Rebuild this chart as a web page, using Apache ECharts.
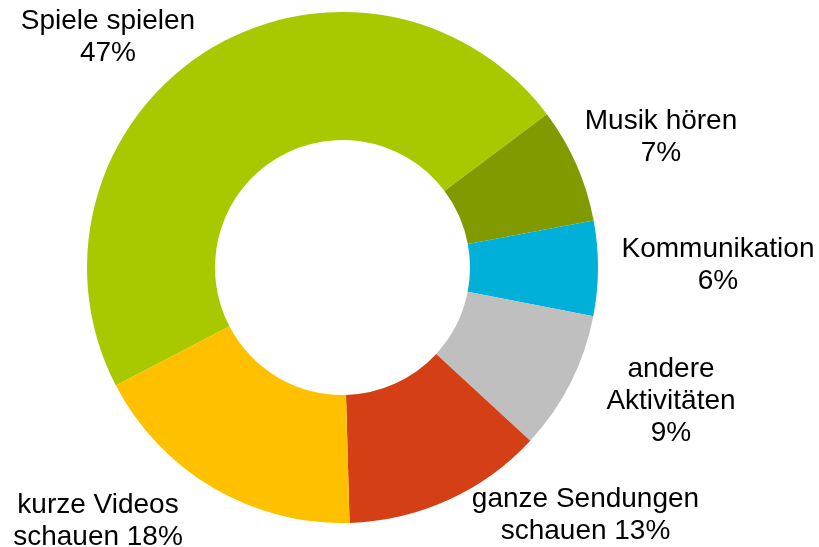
<!DOCTYPE html>
<html>
<head>
<meta charset="utf-8">
<style>
  html, body { margin: 0; padding: 0; background: #fff; }
  #myChart { width: 819px; height: 547px; }
</style>
<script src="https://cdn.jsdelivr.net/npm/echarts@6.0.0/dist/echarts.min.js"></script>
</head>
<body>
<div id="myChart"></div>
<script>
// Daten (Anteile in %)
const categories = ['Spiele spielen', 'Musik hören', 'Kommunikation', 'andere Aktivitäten', 'ganze Sendungen schauen', 'kurze Videos schauen']
const values = [47.4, 7.3, 6.0, 8.8, 12.7, 17.8]
const labelText = [
  'Spiele spielen\n{p}%',
  'Musik hören\n{p}%',
  'Kommunikation\n{p}%',
  'andere\nAktivitäten\n{p}%',
  'ganze Sendungen\nschauen {p}%',
  'kurze Videos\nschauen {p}%'
]
const colors = ['#a8c800', '#809a00', '#00b0d8', '#bfbfbf', '#d43f15', '#ffc000']
// label centres (px)
const labelPos = [[108, 37], [661, 137], [718, 265], [671, 401.5], [585.5, 515], [98, 521.5]]

let myChart = echarts.init(document.getElementById('myChart'))

var option = {
  animation: false,
  series: [
    {
      type: 'pie',
      center: [342.5, 267.5],
      radius: [127.5, 255.5],
      startAngle: 207.5,
      clockwise: true,
      avoidLabelOverlap: false,
      silent: true,
      data: categories.map(function (name, i) {
        return { name: name, value: values[i], itemStyle: { color: colors[i] } }
      }),
      itemStyle: { borderWidth: 0 },
      label: {
        show: true,
        position: 'outside',
        color: '#000',
        fontFamily: '"Liberation Sans", Arial, sans-serif',
        fontSize: 28,
        lineHeight: 32,
        align: 'center',
        formatter: function (params) {
          return labelText[params.dataIndex].replace('{p}', Math.round(params.value))
        }
      },
      labelLine: { show: false },
      labelLayout: function (params) {
        var p = labelPos[params.dataIndex]
        return { x: p[0], y: p[1], align: 'center', verticalAlign: 'middle' }
      },
      emphasis: { disabled: true }
    }
  ]
}

myChart.setOption(option)
</script>
</body>
</html>
